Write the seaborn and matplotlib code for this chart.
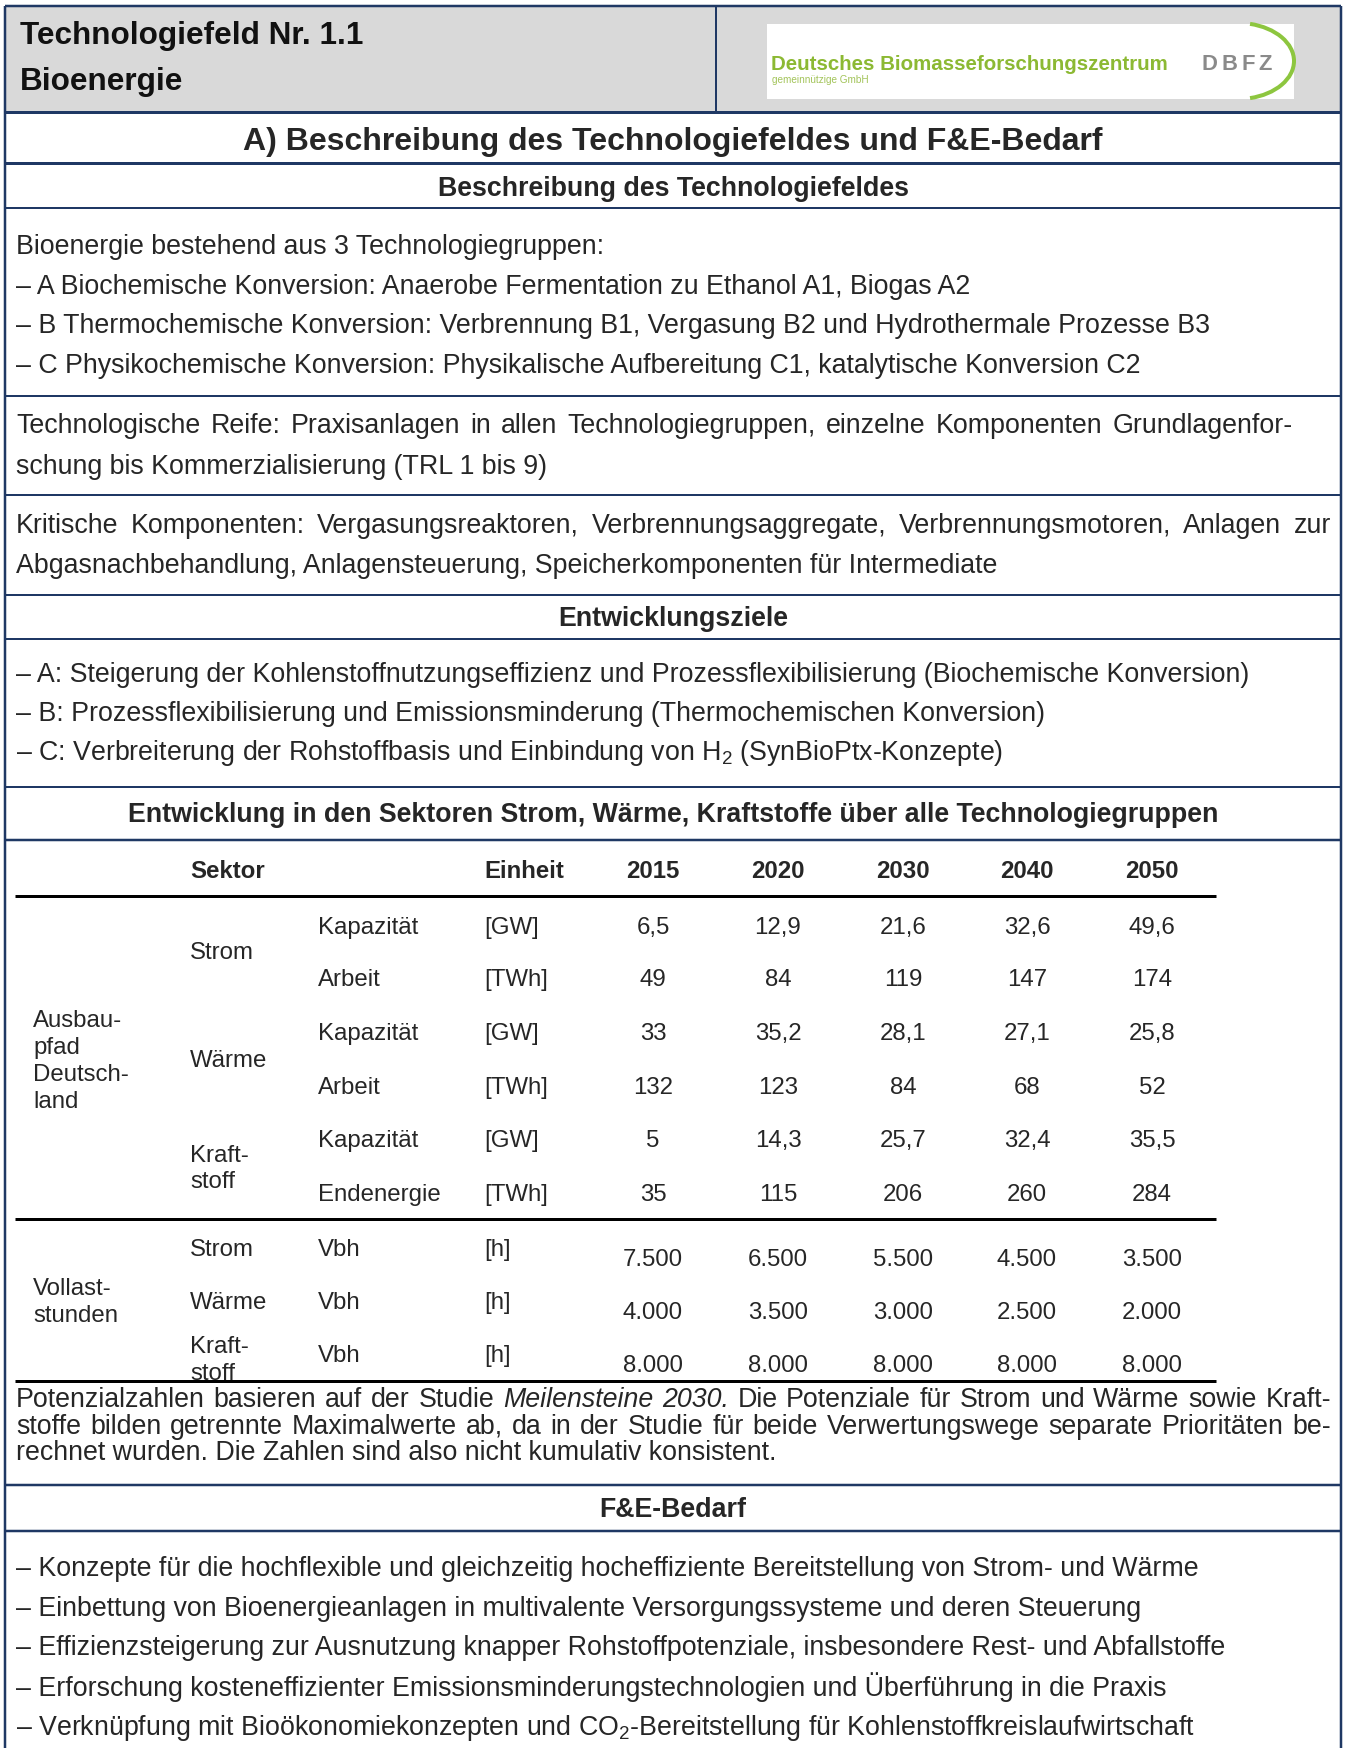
import matplotlib
matplotlib.use("Agg")
import matplotlib.pyplot as plt
from matplotlib.patches import Rectangle, Arc
import seaborn as sns

# === STIL ===
sns.set_theme(style="white")
plt.rcParams['font.family'] = ['Liberation Sans', 'DejaVu Sans']
plt.rcParams['mathtext.fontset'] = 'custom'
plt.rcParams['mathtext.rm'] = 'Liberation Sans'
plt.rcParams['mathtext.it'] = 'Liberation Sans:italic'
plt.rcParams['mathtext.default'] = 'regular'

# === INHALT ===
kopf_zeilen = ["Technologiefeld Nr. 1.1", "Bioenergie"]
logo_name = "Deutsches Biomasseforschungszentrum"
logo_zusatz = "gemeinnützige GmbH"
logo_kurz = ["D", "B", "F", "Z"]
titel = "A) Beschreibung des Technologiefeldes und F&E-Bedarf"

ueberschriften = ["Beschreibung des Technologiefeldes", "Entwicklungsziele",
                  "Entwicklung in den Sektoren Strom, Wärme, Kraftstoffe über alle Technologiegruppen",
                  "F&E-Bedarf"]

beschreibung = [
    "Bioenergie bestehend aus 3 Technologiegruppen:",
    "– A Biochemische Konversion: Anaerobe Fermentation zu Ethanol A1, Biogas A2",
    "– B Thermochemische Konversion: Verbrennung B1, Vergasung B2 und Hydrothermale Prozesse B3",
    "– C Physikochemische Konversion: Physikalische Aufbereitung C1, katalytische Konversion C2",
]
reife = [
    "Technologische Reife: Praxisanlagen in allen Technologiegruppen, einzelne Komponenten Grundlagenfor-",
    "schung bis Kommerzialisierung (TRL 1 bis 9)",
]
kritisch = [
    "Kritische Komponenten: Vergasungsreaktoren, Verbrennungsaggregate, Verbrennungsmotoren, Anlagen zur",
    "Abgasnachbehandlung, Anlagensteuerung, Speicherkomponenten für Intermediate",
]
ziele = [
    "– A: Steigerung der Kohlenstoffnutzungseffizienz und Prozessflexibilisierung (Biochemische Konversion)",
    "– B: Prozessflexibilisierung und Emissionsminderung (Thermochemischen Konversion)",
    "– C: Verbreiterung der Rohstoffbasis und Einbindung von H$_2$ (SynBioPtx-Konzepte)",
]

# Tabelle
kopf_sektor = "Sektor"
kopf_einheit = "Einheit"
jahre = ["2015", "2020", "2030", "2040", "2050"]
ausbau_label = ["Ausbau-", "pfad", "Deutsch-", "land"]
ausbau_sektoren = [["Strom"], ["Wärme"], ["Kraft-", "stoff"]]
ausbau_groessen = ["Kapazität", "Arbeit", "Kapazität", "Arbeit", "Kapazität", "Endenergie"]
ausbau_einheiten = ["[GW]", "[TWh]", "[GW]", "[TWh]", "[GW]", "[TWh]"]
ausbau_werte = [
    ["6,5", "12,9", "21,6", "32,6", "49,6"],
    ["49", "84", "119", "147", "174"],
    ["33", "35,2", "28,1", "27,1", "25,8"],
    ["132", "123", "84", "68", "52"],
    ["5", "14,3", "25,7", "32,4", "35,5"],
    ["35", "115", "206", "260", "284"],
]
vollast_label = ["Vollast-", "stunden"]
vollast_sektoren = [["Strom"], ["Wärme"], ["Kraft-", "stoff"]]
vollast_groessen = ["Vbh", "Vbh", "Vbh"]
vollast_einheiten = ["[h]", "[h]", "[h]"]
vollast_werte = [
    ["7.500", "6.500", "5.500", "4.500", "3.500"],
    ["4.000", "3.500", "3.000", "2.500", "2.000"],
    ["8.000", "8.000", "8.000", "8.000", "8.000"],
]

# Anmerkung (Zeile 1 und 2 im Blocksatz, Wörter mit Stil)
anmerkung_1 = [("Potenzialzahlen", "normal"), ("basieren", "normal"), ("auf", "normal"), ("der", "normal"),
               ("Studie", "normal"), ("Meilensteine", "italic"), ("2030.", "italic"), ("Die", "normal"),
               ("Potenziale", "normal"), ("für", "normal"), ("Strom", "normal"), ("und", "normal"),
               ("Wärme", "normal"), ("sowie", "normal"), ("Kraft-", "normal")]
anmerkung_2 = "stoffe bilden getrennte Maximalwerte ab, da in der Studie für beide Verwertungswege separate Prioritäten be-"
anmerkung_3 = "rechnet wurden. Die Zahlen sind also nicht kumulativ konsistent."

bedarf = [
    "– Konzepte für die hochflexible und gleichzeitig hocheffiziente Bereitstellung von Strom- und Wärme",
    "– Einbettung von Bioenergieanlagen in multivalente Versorgungssysteme und deren Steuerung",
    "– Effizienzsteigerung zur Ausnutzung knapper Rohstoffpotenziale, insbesondere Rest- und Abfallstoffe",
    "– Erforschung kosteneffizienter Emissionsminderungstechnologien und Überführung in die Praxis",
    "– Verknüpfung mit Bioökonomiekonzepten und CO$_2$-Bereitstellung für Kohlenstoffkreislaufwirtschaft",
]

# === FIGUR (Koordinaten in Pixeln) ===
W, H = 1345, 1749
fig = plt.figure(figsize=(W / 100, H / 100), dpi=100, facecolor='white')
ax = fig.add_axes([0, 0, 1, 1])
ax.set_xlim(0, W)
ax.set_ylim(H, 0)
ax.axis('off')
renderer = fig.canvas.get_renderer()


def pt(px):  # Pixel -> Punkt
    return px * 0.72


NAVY = '#1f3864'
GRUEN = '#8cb933'
BODY = pt(26.8)
TAB = pt(24)
XL, XR = 5, 1341
TX = 16

# Kopfbereich
ax.add_patch(Rectangle((XL, 7), XR - XL, 106, facecolor='#d9d9d9', edgecolor='none', zorder=0))
for txt, y in zip(kopf_zeilen, [36, 82]):
    ax.text(20, y, txt, fontsize=pt(31.5), fontweight='bold', va='center', ha='left', color='#111111')

# Logo
ax.add_patch(Rectangle((767, 25), 527, 75, facecolor='white', edgecolor='none', zorder=1))
ax.text(771, 65, logo_name, fontsize=pt(20.5), fontweight='bold', color=GRUEN, va='center', ha='left', zorder=2)
ax.text(772, 80, logo_zusatz, fontsize=pt(10), color='#a3c45a', va='center', ha='left', zorder=2)
for b, x in zip(logo_kurz, [1209, 1229, 1248, 1265]):
    ax.text(x, 65, b, fontsize=pt(22), fontweight='bold', color='#8a8a8a', va='center', ha='center', zorder=2)
ax.add_patch(Arc((1238, 62), 112, 76, theta1=-72, theta2=72, color='#8dc63f', lw=pt(4), zorder=2))

# Titel und Überschriften
ax.text(673, 142, titel, fontsize=pt(32), fontweight='bold', va='center', ha='center')
for txt, y in zip(ueberschriften, [189, 619, 815, 1510]):
    ax.text(673, y, txt, fontsize=BODY, fontweight='bold', va='center', ha='center')


# Fließtext
def zeilen(lines, ys, size=BODY, x=TX):
    for txt, y in zip(lines, ys):
        ax.text(x, y, txt, fontsize=size, va='center', ha='left')


def blocksatz(woerter, y, x0=TX, x1=1331, size=BODY):
    breiten = []
    for w, st in woerter:
        t = ax.text(0, 0, w, fontsize=size, fontstyle=st)
        breiten.append(t.get_window_extent(renderer).width)
        t.remove()
    luecke = (x1 - x0 - sum(breiten)) / (len(woerter) - 1)
    x = x0
    for (w, st), b in zip(woerter, breiten):
        ax.text(x, y, w, fontsize=size, fontstyle=st, va='center', ha='left')
        x += b + luecke


def normal(satz):
    return [(w, 'normal') for w in satz.split()]


zeilen(beschreibung, [247, 287, 326, 366])
blocksatz(normal(reife[0]), 426, x1=1293)
zeilen(reife[1:], [467])
blocksatz(normal(kritisch[0]), 526)
zeilen(kritisch[1:], [566])
zeilen(ziele, [675, 714, 753])
zeilen(bedarf, [1569, 1609, 1648, 1687, 1728])

# Anmerkung im Blocksatz
blocksatz(anmerkung_1, 1400)
blocksatz(normal(anmerkung_2), 1427)
ax.text(TX, 1453, anmerkung_3, fontsize=BODY, va='center', ha='left')

# Tabelle
X_SEK, X_GR, X_EIN = 190, 318, 484
X_JAHR = [653, 778, 903, 1027, 1152]

ax.text(X_SEK, 872, kopf_sektor, fontsize=TAB, fontweight='bold', va='center')
ax.text(X_EIN, 872, kopf_einheit, fontsize=TAB, fontweight='bold', va='center')
for j, x in zip(jahre, X_JAHR):
    ax.text(x, 872, j, fontsize=TAB, fontweight='bold', va='center', ha='center')

zeilen(ausbau_label, [1021, 1048, 1075, 1102], size=TAB, x=33)
ausbau_y = [928, 980, 1034, 1088, 1141, 1195]
for lines, ys in zip(ausbau_sektoren, [[953], [1061], [1156, 1182]]):
    zeilen(lines, ys, size=TAB, x=X_SEK)
for gr, ein, werte, y in zip(ausbau_groessen, ausbau_einheiten, ausbau_werte, ausbau_y):
    ax.text(X_GR, y, gr, fontsize=TAB, va='center')
    ax.text(X_EIN, y, ein, fontsize=TAB, va='center')
    for w, x in zip(werte, X_JAHR):
        ax.text(x, y, w, fontsize=TAB, va='center', ha='center')

zeilen(vollast_label, [1289, 1316], size=TAB, x=33)
vollast_y = [1250, 1303, 1356]
werte_y = [1260, 1313, 1366]
clip = Rectangle((0, 0), W, 1380, transform=ax.transData)
for lines, ys in zip(vollast_sektoren, [[1250], [1303], [1347, 1374]]):
    for txt, y in zip(lines, ys):
        t = ax.text(X_SEK, y, txt, fontsize=TAB, va='center')
        t.set_clip_path(clip)
for gr, ein, werte, y, yw in zip(vollast_groessen, vollast_einheiten, vollast_werte, vollast_y, werte_y):
    ax.text(X_GR, y, gr, fontsize=TAB, va='center')
    ax.text(X_EIN, y, ein, fontsize=TAB, va='center')
    for w, x in zip(werte, X_JAHR):
        ax.text(x, yw, w, fontsize=TAB, va='center', ha='center')

for y in [897, 1220, 1382]:
    ax.plot([15, 1216], [y, y], color='black', lw=pt(3), solid_capstyle='butt', zorder=3)

# Rahmenlinien
for y, lw in [(7, 2.5), (113, 3), (164, 3), (209, 2), (397, 2), (496, 2), (596, 2), (640, 2),
              (788, 2), (841, 2.5), (1486, 2.5), (1532, 2.5)]:
    ax.plot([XL, XR], [y, y], color=NAVY, lw=pt(lw), solid_capstyle='butt', zorder=4)
for x in [XL, XR]:
    ax.plot([x, x], [7, H], color=NAVY, lw=pt(2.5), solid_capstyle='butt', zorder=4)
ax.plot([716, 716], [7, 113], color=NAVY, lw=pt(2), solid_capstyle='butt', zorder=4)

fig.savefig("out.png", dpi=100, facecolor='white')
